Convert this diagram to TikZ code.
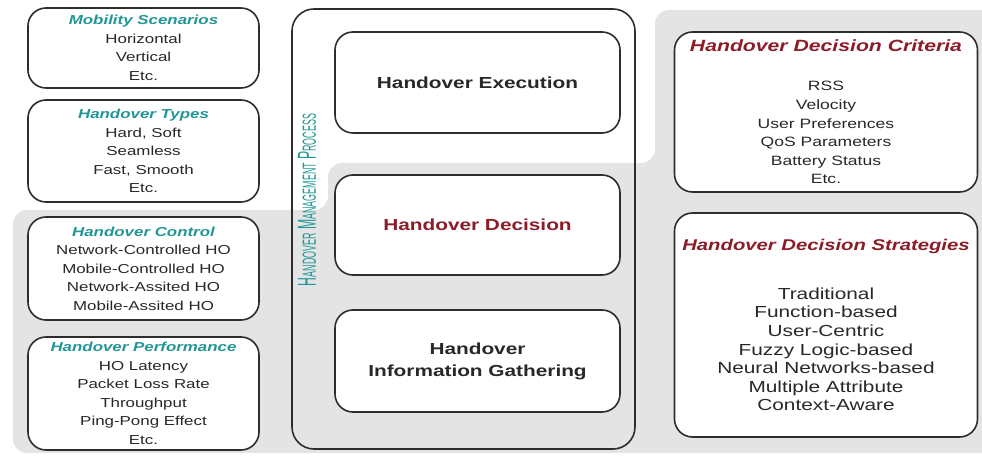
\documentclass[tikz,border=0pt]{standalone}
\usepackage{fontspec}
\setmainfont[FakeStretch=1.3]{Liberation Sans}
\newfontfamily\condfont[FakeStretch=0.47]{Liberation Sans}
\usepackage{xcolor}
\usetikzlibrary{positioning}

\definecolor{hoteal}{RGB}{34,150,150}
\definecolor{hored}{RGB}{140,28,40}
\definecolor{hogray}{RGB}{228,228,228}
\definecolor{holine}{RGB}{45,45,45}
\definecolor{hotext}{RGB}{40,40,40}

\newcommand{\sidetitle}[1]{\textbf{\textit{\color{hoteal}#1}}}
\newcommand{\crittitle}[2][16]{{\fontsize{#1}{18.6}\selectfont\textbf{\textit{\color{hored}#2}}}}
\newcommand{\fsc}[1]{{\fontsize{19}{19}\selectfont #1}}

\begin{document}
\begin{tikzpicture}[x=1pt, y=1pt, on grid,
    box/.style={draw=holine, line width=1.6pt, rounded corners=18pt, fill=white,
      align=center, inner sep=0pt, text=hotext},
    side/.style={box, minimum width=231pt, font=\fontsize{13}{18.5}\selectfont},
    crit/.style={box, minimum width=303pt, font=\fontsize{16}{18.6}\selectfont},
    phase/.style={box, minimum width=285pt, minimum height=101pt,
      font=\bfseries\fontsize{16}{22}\selectfont}]

  \useasboundingbox (0,0) rectangle (982,455);

  \begin{scope}
    \clip (0,0) rectangle (982,455);
    \fill[hogray, rounded corners=14pt] (13,2) -- (13,245) -- (328,245) -- (328,292)
      -- (655,292) -- (655,445) -- (1000,445) -- (1000,2) -- cycle;
  \end{scope}

  \node[side, minimum height=80pt] (MobScn) at (143.5,407)
    {\sidetitle{Mobility Scenarios}\\Horizontal\\Vertical\\Etc.};
  \node[side, minimum height=102pt] (HoTypes) [below=103pt of MobScn]
    {\sidetitle{Handover Types}\\Hard, Soft\\Seamless\\Fast, Smooth\\Etc.};
  \node[side, minimum height=103pt] (HoCtrl) [below=117.5pt of HoTypes]
    {\sidetitle{Handover Control}\\Network-Controlled HO\\Mobile-Controlled HO\\Network-Assited HO\\Mobile-Assited HO};
  \node[side, minimum height=113pt] (HoPerf) [below=125pt of HoCtrl]
    {\sidetitle{Handover Performance}\\HO Latency\\Packet Loss Rate\\Throughput\\Ping-Pong Effect\\Etc.};

  \node[box, rounded corners=22pt, fill=none, minimum width=343pt, minimum height=440pt] (HoMgmt) at (463.5,226) {};
  \node[rotate=90, text=hoteal, font=\condfont\fontsize{26}{26}\selectfont] (MgmtLbl) at (307,255)
    {H\fsc{ANDOVER} M\fsc{ANAGEMENT} P\fsc{ROCESS}};

  \node[phase] (HoExec) at (477.5,372.5) {Handover Execution};
  \node[phase, minimum height=100pt, text=hored] (HoDec) [below=142.5pt of HoExec] {Handover Decision};
  \node[phase, minimum height=102pt] (HoInfo) [below=136pt of HoDec] {Handover\\Information Gathering};

  \node[crit, minimum height=160pt, font=\fontsize{13.5}{18.6}\selectfont] (DecCrit) at (826,343)
    {\crittitle[16.3]{Handover Decision Criteria}\\[20.4pt]RSS\\Velocity\\User Preferences\\QoS Parameters\\Battery Status\\Etc.};
  \node[crit, minimum height=224pt] (DecStrat) [below=213pt of DecCrit]
    {\crittitle[15.6]{Handover Decision Strategies}\\[30.4pt]Traditional\\Function-based\\User-Centric\\Fuzzy Logic-based\\Neural Networks-based\\Multiple Attribute\\Context-Aware};

\end{tikzpicture}
\end{document}
